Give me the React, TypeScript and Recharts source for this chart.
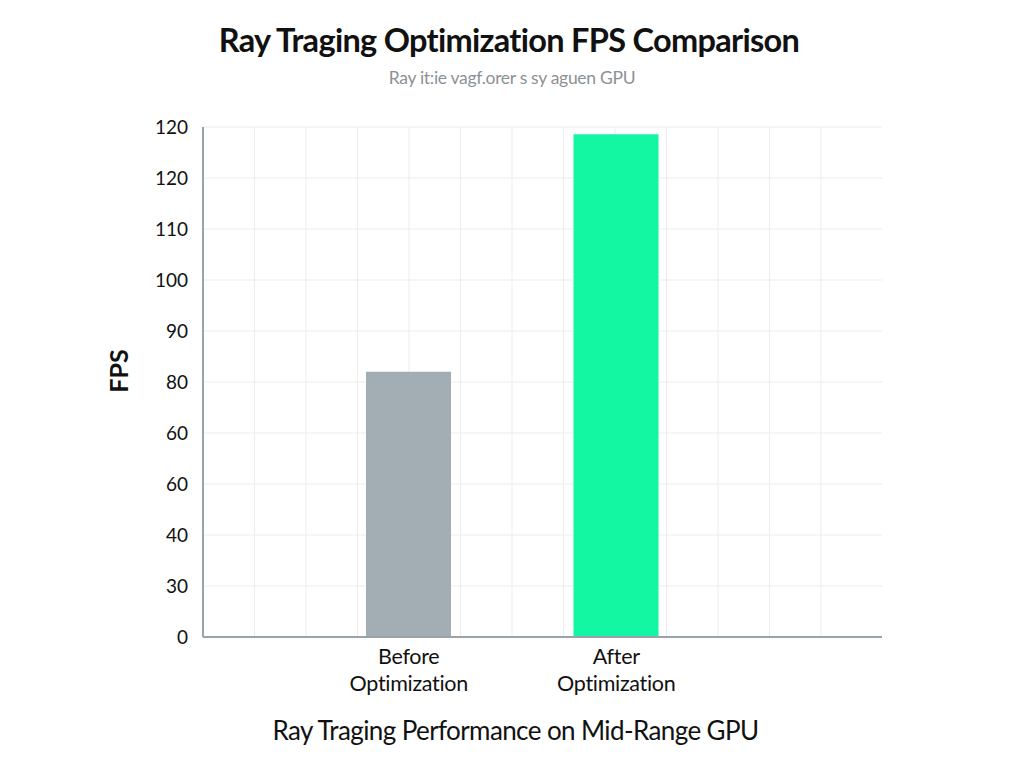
import React from "react";
import { BarChart, Bar, XAxis, YAxis, CartesianGrid, Cell, Label } from "recharts";

const categories = ["Before Optimization", "After Optimization"];
const fpsValues = [52, 98.6];
const barColors = ["#a3adb4", "#14f7a2"];
const yTicks = [0, 10, 20, 30, 40, 50, 60, 70, 80, 90, 100];
const yTickLabels = ["0", "30", "40", "60", "60", "80", "90", "100", "110", "120", "120"];

const data = categories.map((name, i) => ({ name, fps: fpsValues[i] }));

const FONT = "Lato, 'Open Sans', sans-serif";

function XTick(props: any) {
  const { x, y, payload } = props;
  const words = String(payload.value).split(" ");
  return (
    <text x={x} y={y} textAnchor="middle" fill="#111" fontSize={21.5} fontFamily={FONT} letterSpacing={-0.3}>
      {words.map((w, i) => (
        <tspan key={i} x={x} dy={i === 0 ? 19 : 27}>
          {w}
        </tspan>
      ))}
    </text>
  );
}

function FpsLabel(props: any) {
  const { viewBox } = props;
  const cx = 118;
  const cy = viewBox.y + viewBox.height / 2 - 11;
  return (
    <text
      x={cx}
      y={cy}
      transform={`rotate(-90 ${cx} ${cy})`}
      textAnchor="middle"
      dominantBaseline="central"
      fontSize={25}
      fontWeight={700}
      fill="#111"
      fontFamily={FONT}
    >
      FPS
    </text>
  );
}

export default function App() {
  return (
    <div
      style={{
        position: "absolute",
        left: 0,
        top: 0,
        width: 1024,
        height: 768,
        background: "#fff",
        fontFamily: FONT,
      }}
    >
      <div
        style={{
          position: "absolute",
          top: 20,
          width: 1018,
          textAlign: "center",
          fontSize: 32.5,
          fontWeight: 700,
          color: "#111",
          letterSpacing: -0.7,
        }}
      >
        Ray Traging Optimization FPS Comparison
      </div>
      <div
        style={{
          position: "absolute",
          top: 67,
          width: 1024,
          textAlign: "center",
          fontSize: 17.5,
          color: "#8c9196",
          letterSpacing: -0.3,
        }}
      >
        Ray it:ie vagf.orer s sy aguen GPU
      </div>
      <BarChart
        width={1024}
        height={768}
        data={data}
        margin={{ top: 127, right: 142, bottom: 0, left: 0 }}
      >
        <CartesianGrid
          stroke="#ededed"
          strokeWidth={1}
          verticalCoordinatesGenerator={({ offset }: any) =>
            Array.from({ length: 12 }, (_, i) => offset.left + 51.5 * (i + 1))
          }
        />
        <XAxis
          dataKey="name"
          height={131}
          padding={{ left: 102, right: 162 }}
          axisLine={{ stroke: "#9aa3a9", strokeWidth: 2 }}
          tickLine={false}
          tick={<XTick />}
          interval={0}
        >
          <Label
            value="Ray Traging Performance on Mid-Range GPU"
            position="insideBottom"
            offset={28}
            dx={-27}
            style={{ fontSize: 26, fill: "#111", fontFamily: FONT, letterSpacing: -0.6 }}
          />
        </XAxis>
        <YAxis
          width={203}
          domain={[0, 100]}
          ticks={yTicks}
          interval={0}
          tickFormatter={(v: number) => yTickLabels[yTicks.indexOf(v)]}
          axisLine={{ stroke: "#9aa3a9", strokeWidth: 2 }}
          tickLine={false}
          tickSize={0}
          tickMargin={15}
          tick={{ fontSize: 19, fill: "#111", fontFamily: FONT }}
        >
          <Label content={<FpsLabel />} />
        </YAxis>
        <Bar dataKey="fps" barSize={85} isAnimationActive={false}>
          {data.map((d, i) => (
            <Cell key={d.name} fill={barColors[i]} />
          ))}
        </Bar>
      </BarChart>
    </div>
  );
}
